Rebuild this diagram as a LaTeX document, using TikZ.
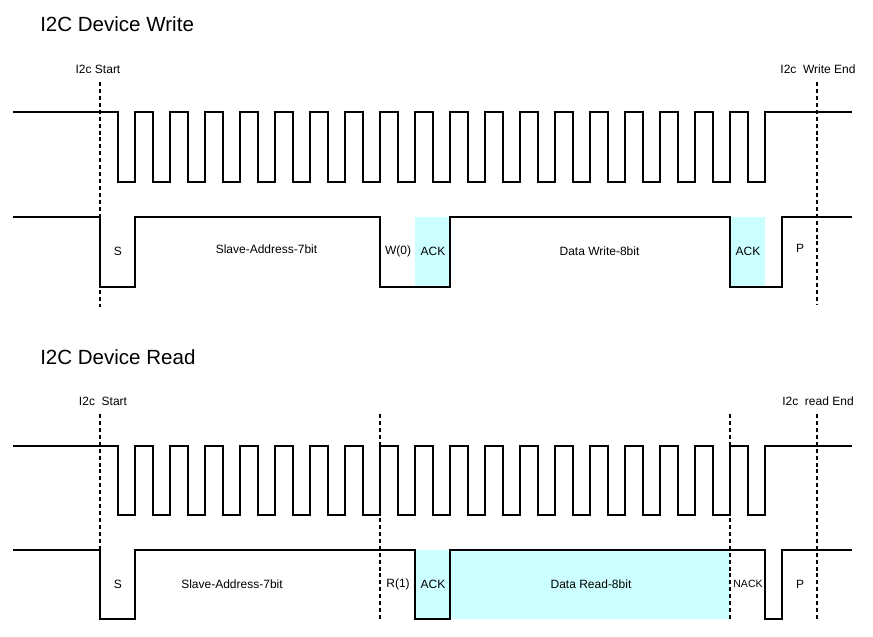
\documentclass[tikz,border=0pt]{standalone}
\usepackage{fontspec}
\setmainfont{Liberation Sans}
\definecolor{ackcyan}{HTML}{CCFFFF}
\begin{document}
\begin{tikzpicture}[x=0.75pt,y=-0.75pt,
  sig/.style={line width=1.5pt,line join=miter},
  guide/.style={line width=1.5pt,dash pattern=on 3pt off 2.2pt},
  lbl/.style={inner sep=0pt,font=\fontsize{9}{10}\selectfont},
  small/.style={inner sep=0pt,font=\fontsize{7.9}{9}\selectfont},
  title/.style={inner sep=0pt,anchor=west,font=\fontsize{15.4}{18}\selectfont}]
\useasboundingbox (0,0) rectangle (873,636);
% ================= WRITE =================
\node[title] (tw) at (40,24) {I2C Device Write};
\fill[ackcyan] (415,217) rectangle (450,287);
\fill[ackcyan] (730,217) rectangle (765,287);
% clock
\draw[sig] (13,112) -- (118,112) -- (118,182)
  \foreach \k in {0,...,17} { -- ({135+35*\k},182) -- ({135+35*\k},112) -- ({153+35*\k},112) -- ({153+35*\k},182) }
  -- (765,182) -- (765,112) -- (852,112);
% data
\draw[sig] (13,217) -- (100,217) -- (100,287) -- (135,287) -- (135,217) -- (380,217) -- (380,287)
  -- (450,287) -- (450,217) -- (730,217) -- (730,287) -- (782,287) -- (782,217) -- (852,217);
% guides
\coordinate (ws1) at (100,82); \coordinate (ws2) at (100,307);
\coordinate (we1) at (817,82); \coordinate (we2) at (817,305);
\draw[guide] (ws1) -- (ws2);
\draw[guide] (we1) -- (we2);
\node[lbl] (wstart) at (98,69) {I2c Start};
\node[lbl] (wend) at (818,69) {I2c\ \ Write End};
\node[lbl] (wS) at (118,251) {S};
\node[lbl] (wsa) at (266.5,249) {Slave-Address-7bit};
\node[lbl] (ww) at (398,251) {W(0)};
\node[lbl] (wack1) at (433,251) {ACK};
\node[lbl] (wdata) at (599.5,251) {Data Write-8bit};
\node[lbl] (wack2) at (748,251) {ACK};
\node[lbl] (wP) at (800,248) {P};
% ================= READ =================
\node[title] (tr) at (40,357) {I2C Device Read};
\fill[ackcyan] (415,550) rectangle (730,619);
% clock
\draw[sig] (13,446) -- (118,446) -- (118,515)
  \foreach \k in {0,...,17} { -- ({135+35*\k},515) -- ({135+35*\k},446) -- ({153+35*\k},446) -- ({153+35*\k},515) }
  -- (765,515) -- (765,446) -- (852,446);
% data
\draw[sig] (13,550) -- (100,550) -- (100,619) -- (135,619) -- (135,550) -- (415,550) -- (415,619)
  -- (450,619) -- (450,550) -- (765,550) -- (765,619) -- (782,619) -- (782,550) -- (852,550);
% guides
\coordinate (rs1) at (100,414); \coordinate (rs2) at (100,620);
\coordinate (rr1) at (380,414); \coordinate (rr2) at (380,620);
\coordinate (rn1) at (730,414); \coordinate (rn2) at (730,620);
\coordinate (re1) at (817,414); \coordinate (re2) at (817,620);
\draw[guide] (rs1) -- (rs2);
\draw[guide] (rr1) -- (rr2);
\draw[guide] (rn1) -- (rn2);
\draw[guide] (re1) -- (re2);
\node[lbl] (rstart) at (103,401) {I2c\ \ Start};
\node[lbl] (rend) at (818,401) {I2c\ \ read End};
\node[lbl] (rS) at (118,584) {S};
\node[lbl] (rsa) at (232,584) {Slave-Address-7bit};
\node[lbl] (rr) at (398,584) {R(1)};
\node[lbl] (rack) at (433,584) {ACK};
\node[lbl] (rdata) at (591,584) {Data Read-8bit};
\node[small] (rnack) at (748,584) {NACK};
\node[lbl] (rP) at (800,584) {P};
\end{tikzpicture}
\end{document}
